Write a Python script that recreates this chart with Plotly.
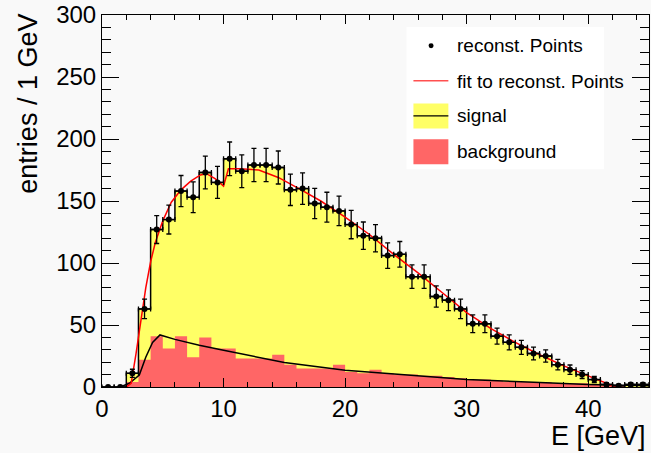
import numpy as np
import plotly.graph_objects as go

# ---- data ----
bin_edges = list(range(0, 46))           # 1 GeV bins, 0..45
bin_centers = [i + 0.5 for i in range(45)]

reco_counts = [0, 0, 11, 63, 127, 135, 158, 153, 173, 165,
               184, 174, 179, 179, 177, 159, 160, 148, 145, 142,
               131, 122, 120, 106, 107, 89, 89, 73, 70, 63,
               51, 51, 41, 36, 32, 27, 25, 18, 14, 10,
               6, 2, 1, 2, 2]

bkg_counts = [0, 0, 4, 22, 41, 31, 41, 24, 40, 31,
              31, 23, 23, 23, 26, 18, 15, 15, 15, 18,
              12, 11, 14, 11, 10, 10, 9, 9, 8, 7,
              6, 6, 5, 4, 4, 4, 4, 3, 3, 3,
              2, 1, 1, 0, 0]

fit_x = [2.0, 2.4, 2.8, 3.2, 3.6, 4.0, 4.4, 5.0, 5.7, 6.5, 7.3, 8.1, 8.6, 9.3,
         10.0, 10.4, 11.3, 12.9, 14.5, 16.2, 18, 20, 22, 24, 26, 28, 30, 32,
         34, 36, 38, 40, 41, 42, 42.5]
fit_y = [0, 3, 27, 54, 80, 101, 117, 134, 149, 159, 166, 171, 172, 168,
         162, 176, 176, 175, 169, 160, 150, 137, 123, 107, 92, 76, 60, 47,
         36, 26, 17, 9, 5, 1, 0]

sig_x = [1.5, 2.25, 3.07, 3.6, 4.16, 4.77, 6, 8, 10, 12, 15, 20, 25, 30, 35, 40, 45]
sig_y = [0, 3, 9.6, 24, 36, 42, 38.4, 33.6, 29.6, 25.6, 19.7, 13.6, 9.6, 6.1, 4, 2.1, 1]

x_ticks = [0, 10, 20, 30, 40]
y_ticks = [0, 50, 100, 150, 200, 250, 300]

legend_labels = ["reconst. Points", "fit to reconst. Points", "signal", "background"]

YELLOW = "#ffff66"
REDFILL = "#ff6666"
FONT = "Liberation Sans, Arial, Helvetica, sans-serif"

fig = go.Figure()

# yellow filled histogram (reconstructed total)
fig.add_trace(go.Scatter(x=bin_edges, y=reco_counts + [reco_counts[-1]],
                         mode="lines", line=dict(width=0, shape="hv"),
                         fill="tozeroy", fillcolor=YELLOW, hoverinfo="skip"))
# background histogram
fig.add_trace(go.Scatter(x=bin_edges, y=bkg_counts + [bkg_counts[-1]],
                         mode="lines", line=dict(width=0, shape="hv"),
                         fill="tozeroy", fillcolor=REDFILL, hoverinfo="skip"))
# black curve
fig.add_trace(go.Scatter(x=sig_x, y=sig_y, mode="lines",
                         line=dict(color="black", width=1.5)))
# step outline
fig.add_trace(go.Scatter(x=bin_edges, y=reco_counts + [reco_counts[-1]],
                         mode="lines", line=dict(color="black", width=1.5, shape="hv")))
# red fit curve
fig.add_trace(go.Scatter(x=fit_x, y=fit_y, mode="lines",
                         line=dict(color="#ff0000", width=1.5)))
# points with error bars
fig.add_trace(go.Scatter(x=bin_centers, y=reco_counts, mode="markers",
                         marker=dict(color="black", size=6),
                         error_y=dict(type="data", array=list(np.sqrt(reco_counts)),
                                      color="black", thickness=1.3, width=2.5),
                         error_x=dict(type="data", array=[0.5] * 45,
                                      color="black", thickness=1.3, width=2.5)))

# ---- legend drawn manually (ROOT style) ----
L, T = 102, 13
PW, PH = 548, 374


def px(x):
    return (x - L) / PW


def py(y):
    return (T + PH - y) / PH


shapes = [
    dict(type="rect", xref="paper", yref="paper", x0=px(407), x1=px(605),
         y0=py(168), y1=py(25), fillcolor="white", line=dict(width=0), layer="above"),
    dict(type="circle", xref="paper", yref="paper", x0=px(429.2), x1=px(434.2),
         y0=py(46.5), y1=py(41.5), fillcolor="black", line=dict(width=0)),
    dict(type="line", xref="paper", yref="paper", x0=px(414), x1=px(449),
         y0=py(79), y1=py(79), line=dict(color="#ff5050", width=1.5)),
    dict(type="rect", xref="paper", yref="paper", x0=px(414), x1=px(449),
         y0=py(127), y1=py(102), fillcolor=YELLOW, line=dict(width=0)),
    dict(type="line", xref="paper", yref="paper", x0=px(414), x1=px(449),
         y0=py(114.5), y1=py(114.5), line=dict(color="black", width=1.2)),
    dict(type="rect", xref="paper", yref="paper", x0=px(414), x1=px(449),
         y0=py(163), y1=py(138), fillcolor=REDFILL, line=dict(width=0)),
]

annotations = []
for lab, yc in zip(legend_labels, [44, 80, 114, 150]):
    annotations.append(dict(text=lab, xref="paper", yref="paper", x=px(456), y=py(yc),
                            xanchor="left", yanchor="middle", showarrow=False,
                            font=dict(size=19, color="black", family=FONT)))

annotations.append(dict(text="entries / 1 GeV", xref="paper", yref="paper",
                        x=px(27), y=py(102), textangle=-90, xanchor="center",
                        yanchor="middle", showarrow=False,
                        font=dict(size=27, color="black", family=FONT)))
annotations.append(dict(text="E [GeV]", xref="paper", yref="paper",
                        x=px(649), y=py(436), xanchor="right", yanchor="middle",
                        showarrow=False, font=dict(size=27, color="black", family=FONT)))

fig.update_layout(
    width=651, height=453,
    margin=dict(l=L, r=651 - L - PW, t=T, b=453 - T - PH),
    paper_bgcolor="#f9f9f9", plot_bgcolor="#f9f9f9",
    showlegend=False,
    shapes=shapes, annotations=annotations,
    font=dict(family=FONT, color="black"),
)
fig.update_xaxes(range=[0, 45], tickvals=x_ticks, ticks="inside", ticklen=9,
                 tickcolor="black", tickwidth=1, ticklabeloverflow="allow",
                 minor=dict(dtick=2, tick0=0, ticks="inside", ticklen=5,
                            tickcolor="black", showgrid=False),
                 showline=True, linecolor="black", linewidth=1, mirror="ticks",
                 showgrid=False, zeroline=False,
                 tickfont=dict(size=24, color="black", family=FONT))
fig.update_yaxes(range=[0, 300], tickvals=y_ticks, ticks="inside", ticklen=17,
                 tickcolor="black", tickwidth=1, ticklabeloverflow="allow",
                 minor=dict(dtick=10, tick0=0, ticks="inside", ticklen=9,
                            tickcolor="black", showgrid=False),
                 showline=True, linecolor="black", linewidth=1, mirror="ticks",
                 showgrid=False, zeroline=False,
                 tickfont=dict(size=24, color="black", family=FONT))

fig.write_html("out.html",
               config={"displayModeBar": False},
               post_script="document.body.style.margin='0';document.body.style.overflow='hidden';")
